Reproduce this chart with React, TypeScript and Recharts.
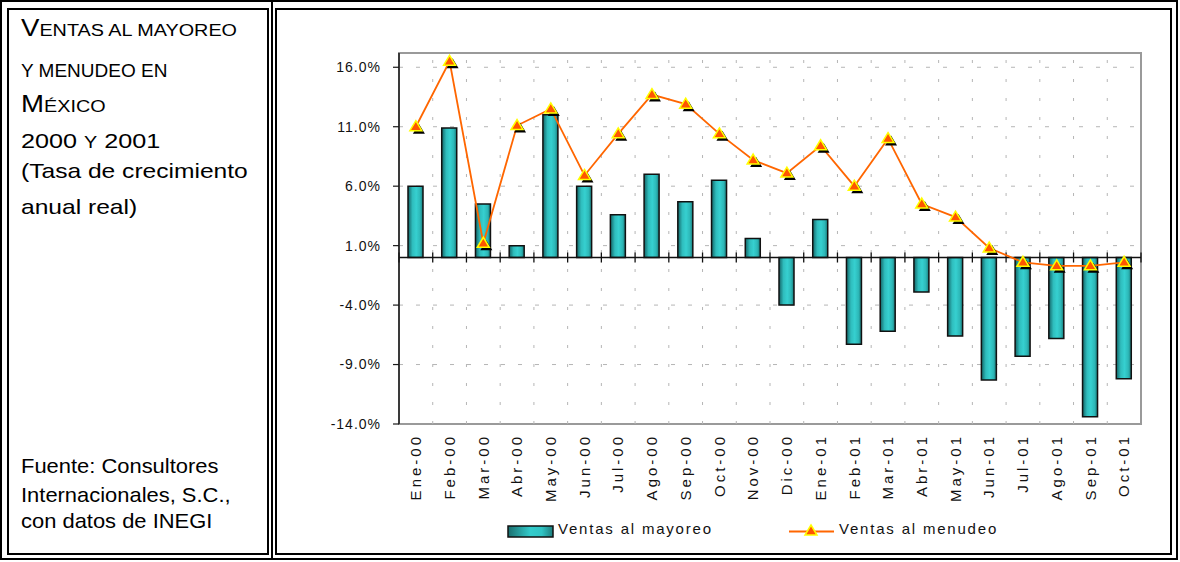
import React from "react";
import {
  Bar,
  CartesianGrid,
  ComposedChart,
  Line,
  ReferenceArea,
  ReferenceLine,
  XAxis,
  YAxis,
} from "recharts";

const meses = [
  "Ene-00", "Feb-00", "Mar-00", "Abr-00", "May-00", "Jun-00", "Jul-00", "Ago-00",
  "Sep-00", "Oct-00", "Nov-00", "Dic-00", "Ene-01", "Feb-01", "Mar-01", "Abr-01",
  "May-01", "Jun-01", "Jul-01", "Ago-01", "Sep-01", "Oct-01",
];
const mayoreo = [
  6.0, 10.9, 4.5, 1.0, 12.0, 6.0, 3.6, 7.0, 4.7, 6.5, 1.6, -4.0, 3.2, -7.3, -6.2,
  -2.9, -6.6, -10.3, -8.3, -6.8, -13.4, -10.2,
];
const menudeo = [
  11.0, 16.5, 1.2, 11.1, 12.5, 6.9, 10.4, 13.7, 12.9, 10.4, 8.2, 7.1, 9.4, 6.0, 10.0,
  4.5, 3.4, 0.8, -0.4, -0.7, -0.7, -0.4,
];
const yTicks = [-14, -9, -4, 1, 6, 11, 16];
const yDomain: [number, number] = [-14, 17.2];
const serieMayoreo = "Ventas al mayoreo";
const serieMenudeo = "Ventas al menudeo";

const FONT = "'Liberation Sans', Arial, sans-serif";
const NARANJA = "#FF6600";

const data = meses.map((mes, i) => ({
  mes,
  pos: i + 0.5,
  mayoreo: mayoreo[i],
  menudeo: menudeo[i],
}));

function MesTick(props: any) {
  const { x, y, payload } = props;
  return (
    <text
      x={x}
      y={y}
      transform={`rotate(-90, ${x}, ${y})`}
      textAnchor="end"
      dy="0.35em"
      fontFamily={FONT}
      fontSize={15}
      letterSpacing={3}
      fill="#111"
    >
      {payload.value}
    </text>
  );
}

function PctTick(props: any) {
  const { x, y, payload } = props;
  return (
    <text
      x={x}
      y={y}
      textAnchor="end"
      dy="0.35em"
      fontFamily={FONT}
      fontSize={14}
      letterSpacing={1}
      fill="#111"
    >
      {`${Number(payload.value).toFixed(1)}%`}
    </text>
  );
}

function triangle(cx: number, cy: number) {
  return `${cx},${cy - 6} ${cx + 6},${cy + 4} ${cx - 6},${cy + 4}`;
}

function Triangulo(props: any) {
  const { cx, cy, index } = props;
  if (cx == null || cy == null) return <g key={index} />;
  return (
    <g key={index}>
      <polygon points={triangle(cx + 3, cy + 3)} fill="#000" />
      <polygon points={triangle(cx, cy)} fill="#FF5500" stroke="#FFFF00" strokeWidth={1.5} />
    </g>
  );
}

// el texto original se ve estirado a lo ancho
function Renglon({ y, sx, size, children }: any) {
  return (
    <text
      transform={`translate(21, ${y}) scale(${sx}, 1)`}
      x={0}
      y={0}
      fontFamily={FONT}
      fontSize={size}
      fill="#000"
    >
      {children}
    </text>
  );
}

function PanelIzquierdo() {
  const big = 23;
  const sc = 16.5;
  return (
    <svg width={270} height={560} style={{ position: "absolute", left: 0, top: 0 }}>
      <Renglon y={36} sx={1.2} size={big}>
        V<tspan fontSize={sc}>ENTAS AL MAYOREO</tspan>
      </Renglon>
      <Renglon y={77} sx={1.0} size={19}>
        Y MENUDEO EN
      </Renglon>
      <Renglon y={112} sx={1.2} size={big}>
        M<tspan fontSize={sc}>ÉXICO</tspan>
      </Renglon>
      <Renglon y={148} sx={1.2} size={21}>
        2000 <tspan fontSize={sc}>Y</tspan> 2001
      </Renglon>
      <Renglon y={178} sx={1.2} size={20.5}>
        (Tasa de crecimiento
      </Renglon>
      <Renglon y={214} sx={1.2} size={20.5}>
        anual real)
      </Renglon>
      <Renglon y={473} sx={1.07} size={20.5}>
        Fuente: Consultores
      </Renglon>
      <Renglon y={502} sx={1.07} size={20.5}>
        Internacionales, S.C.,
      </Renglon>
      <Renglon y={528} sx={1.07} size={20.5}>
        con datos de INEGI
      </Renglon>
    </svg>
  );
}

function Leyenda() {
  return (
    <svg
      width={1180}
      height={562}
      style={{ position: "absolute", left: 0, top: 0, pointerEvents: "none" }}
    >
      <defs>
        <linearGradient id="legGrad" x1="0" y1="0" x2="1" y2="0">
          <stop offset="0%" stopColor="#1a6e6e" />
          <stop offset="50%" stopColor="#33cccc" />
          <stop offset="75%" stopColor="#30c4c4" />
          <stop offset="100%" stopColor="#1d7c7c" />
        </linearGradient>
      </defs>
      <rect x={508} y={526} width={45} height={11} fill="url(#legGrad)" stroke="#111" strokeWidth={1.5} />
      <text x={558} y={533.5} fontFamily={FONT} fontSize={15} letterSpacing={1.8} fill="#111">
        {serieMayoreo}
      </text>
      <line x1={789} y1={531.5} x2={834} y2={531.5} stroke={NARANJA} strokeWidth={1.8} />
      <polygon points={triangle(811, 531)} fill="#FF5500" stroke="#FFFF00" strokeWidth={1.5} />
      <text x={839} y={533.5} fontFamily={FONT} fontSize={15} letterSpacing={1.8} fill="#111">
        {serieMenudeo}
      </text>
    </svg>
  );
}

export default function App() {
  const n = meses.length;
  const frontera = Array.from({ length: n + 1 }, (_, i) => i);

  return (
    <div
      style={{
        position: "fixed",
        left: 0,
        top: 0,
        width: 1180,
        height: 562,
        background: "#fff",
        overflow: "hidden",
      }}
    >
      {/* marco doble estilo tabla */}
      <div style={{ position: "absolute", left: 0, top: 0, width: 1178, height: 560, border: "2px solid #000", boxSizing: "border-box" }} />
      <div style={{ position: "absolute", left: 7, top: 8, width: 262, height: 547, border: "2px solid #000", boxSizing: "border-box" }} />
      <div style={{ position: "absolute", left: 271, top: 0, width: 2, height: 560, background: "#000" }} />
      <div style={{ position: "absolute", left: 275, top: 8, width: 897, height: 547, border: "2px solid #000", boxSizing: "border-box" }} />

      <PanelIzquierdo />

      <div style={{ position: "absolute", left: 280, top: 10 }}>
        <ComposedChart
          width={880}
          height={540}
          data={data}
          margin={{ top: 43, right: 19, bottom: 46, left: 19 }}
        >
          <defs>
            <linearGradient id="barGrad" x1="0" y1="0" x2="1" y2="0">
              <stop offset="0%" stopColor="#146466" />
              <stop offset="30%" stopColor="#2fbdbd" />
              <stop offset="55%" stopColor="#36d0d0" />
              <stop offset="80%" stopColor="#2db8b8" />
              <stop offset="100%" stopColor="#1a7a7a" />
            </linearGradient>
          </defs>
          <CartesianGrid
            xAxisId="cat"
            vertical={false}
            stroke="#b5b5b5"
            strokeDasharray="4 13"
          />
          <XAxis
            xAxisId="cat"
            dataKey="mes"
            type="category"
            interval={0}
            axisLine={false}
            tickLine={false}
            tickSize={0}
            tickMargin={10}
            height={80}
            tick={(p: any) => <MesTick {...p} />}
          />
          <XAxis
            xAxisId="grid"
            dataKey="pos"
            type="number"
            domain={[0, n]}
            allowDataOverflow
            hide
          />
          <YAxis
            domain={yDomain}
            ticks={yTicks}
            allowDataOverflow
            interval={0}
            width={100}
            axisLine={{ stroke: "#1a1a1a", strokeWidth: 1.5 }}
            tickLine={{ stroke: "#1a1a1a", strokeWidth: 1.2 }}
            tickSize={6}
            tickMargin={12}
            tick={(p: any) => <PctTick {...p} />}
          />
          <ReferenceArea
            xAxisId="grid"
            x1={0}
            x2={n}
            y1={yDomain[0]}
            y2={yDomain[1]}
            fill="none"
            stroke="#9a9a9a"
            strokeWidth={2}
          />
          {frontera.slice(1, n).map((i) => (
            <ReferenceLine
              key={`v${i}`}
              xAxisId="grid"
              x={i}
              stroke="#b5b5b5"
              strokeDasharray="3 16"
            />
          ))}
          <Bar
            xAxisId="cat"
            dataKey="mayoreo"
            name={serieMayoreo}
            barSize={15}
            fill="url(#barGrad)"
            stroke="#111"
            strokeWidth={1.5}
            isAnimationActive={false}
          />
          <ReferenceLine xAxisId="grid" y={0} stroke="#111" strokeWidth={1.5} />
          {frontera.map((i) => (
            <ReferenceLine
              key={`t${i}`}
              xAxisId="grid"
              segment={[
                { x: i, y: -0.42 },
                { x: i, y: 0.42 },
              ]}
              stroke="#111"
              strokeWidth={1.3}
            />
          ))}
          <Line
            xAxisId="cat"
            dataKey="menudeo"
            name={serieMenudeo}
            type="linear"
            stroke={NARANJA}
            strokeWidth={1.8}
            dot={(p: any) => <Triangulo {...p} />}
            activeDot={false}
            isAnimationActive={false}
          />
        </ComposedChart>
      </div>

      <Leyenda />
    </div>
  );
}
